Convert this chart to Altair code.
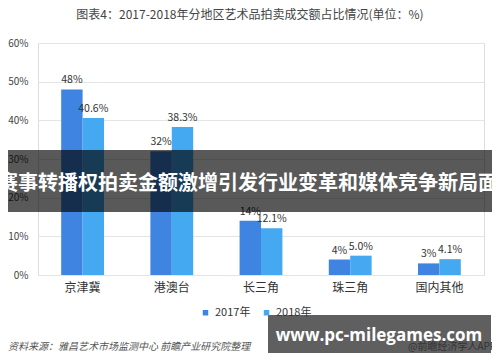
import altair as alt
import pandas as pd

FONT = "Noto Sans CJK SC"

regions = ["京津冀", "港澳台", "长三角", "珠三角", "国内其他"]
years = ["2017年", "2018年"]
v2017 = [48, 32, 14, 4, 3]
v2018 = [40.6, 38.3, 12.1, 5.0, 4.1]
colors = ["#3f84e0", "#45a9f2"]

title_text = "图表4：2017-2018年分地区艺术品拍卖成交额占比情况(单位：%)"
banner_text = "赛事转播权拍卖金额激增引发行业变革和媒体竞争新局面"
source_text = "资料来源：雅昌艺术市场监测中心 前瞻产业研究院整理"
credit_text = "@前瞻经济学人APP"
site_text = "www.pc-milegames.com"

rows = []
for r, a, b in zip(regions, v2017, v2018):
    rows.append({"region": r, "year": years[0], "value": a, "label": f"{a:g}%"})
    rows.append({"region": r, "year": years[1], "value": b, "label": f"{b:.1f}%"})
df = pd.DataFrame(rows)

W, H = 446, 232

x_enc = alt.X(
    "region:N", sort=regions,
    scale=alt.Scale(paddingInner=0.52, paddingOuter=0.26),
    axis=alt.Axis(title=None, labelAngle=0, ticks=False, domain=False,
                  labelFontSize=12, labelColor="#333333", labelPadding=7, labelFont=FONT),
)
xo_enc = alt.XOffset("year:N", sort=years)
y_enc = alt.Y(
    "value:Q", scale=alt.Scale(domain=[0, 60]),
    axis=alt.Axis(title=None, values=[0, 10, 20, 30, 40, 50, 60], labelExpr="datum.value + '%'",
                  ticks=False, domain=False, gridColor="#e4e4e4", labelFontSize=10,
                  labelColor="#444444", labelPadding=10, labelFont=FONT),
)

base = alt.Chart(df)
bars = base.mark_bar().encode(
    x=x_enc, xOffset=xo_enc, y=y_enc,
    color=alt.Color("year:N", sort=years,
                    scale=alt.Scale(domain=years, range=colors),
                    legend=alt.Legend(orient="none", legendX=162, legendY=264, direction="horizontal",
                                      title=None, symbolType="square", symbolSize=30,
                                      labelFontSize=11, labelFont=FONT, labelColor="#333333",
                                      columnPadding=10, symbolStrokeWidth=0)),
)
labels = base.mark_text(dy=-9, fontSize=10.5, color="#333333", font=FONT).encode(
    x=x_enc, xOffset=xo_enc, y=y_enc, text="label:N",
)

def one(text):
    return alt.Chart(pd.DataFrame({"t": [text]}))

title = one(title_text).mark_text(fontSize=12, color="#444444", font=FONT).encode(
    x=alt.value(212), y=alt.value(-28), text="t:N")
banner = one(banner_text).mark_rect(color="black", opacity=0.65).encode(
    x=alt.value(-38), x2=alt.value(462), y=alt.value(107), y2=alt.value(169))
banner_t = one(banner_text).mark_text(fontSize=20, fontWeight="bold", color="white", font=FONT).encode(
    x=alt.value(210), y=alt.value(141), text="t:N")
source = one(source_text).mark_text(fontSize=10, fontStyle="italic", color="#555555", font=FONT,
                                     align="left").encode(
    x=alt.value(-30), y=alt.value(304), text="t:N")
site_box = one(site_text).mark_rect(color="#5f5f5f").encode(
    x=alt.value(230), x2=alt.value(453), y=alt.value(272), y2=alt.value(310))
site_t = one(site_text).mark_text(fontSize=17, fontWeight="bold", color="white", font="Open Sans").encode(
    x=alt.value(341), y=alt.value(293), text="t:N")
credit = one(credit_text).mark_text(fontSize=10, color="#333333", font=FONT, align="left").encode(
    x=alt.value(370), y=alt.value(304), text="t:N")

chart = alt.layer(bars, labels, title, banner, banner_t, source, site_box, site_t, credit).properties(
    width=W, height=H,
    autosize=alt.AutoSizeParams(type="none"),
    padding={"left": 30, "top": 35, "right": 8, "bottom": 79},
).configure_view(stroke=None).configure(background="white")

chart.save("out.html", embed_options={"renderer": "svg", "actions": False})
